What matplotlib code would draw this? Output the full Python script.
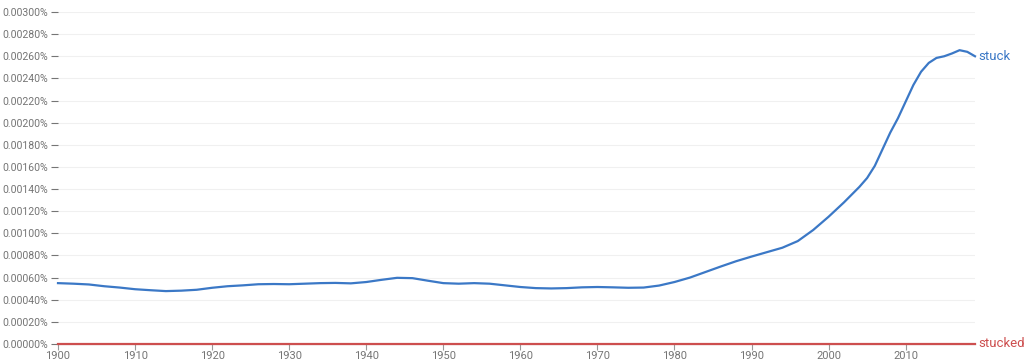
import matplotlib.pyplot as plt
from matplotlib.ticker import FuncFormatter

# Dati
years = [1900, 1902, 1904, 1906, 1908, 1910, 1912, 1914, 1916, 1918,
         1920, 1922, 1924, 1926, 1928, 1930, 1932, 1934, 1936, 1938,
         1940, 1942, 1944, 1946, 1948, 1950, 1952, 1954, 1956, 1958,
         1960, 1962, 1964, 1966, 1968, 1970, 1972, 1974, 1976, 1978,
         1980, 1982, 1984, 1986, 1988, 1990, 1992, 1994, 1996, 1998,
         2000, 2002, 2004, 2005, 2006, 2007, 2008, 2009, 2010, 2011, 2012,
         2013, 2014, 2015, 2016, 2017, 2018, 2019]
stuck = [0.000550, 0.000545, 0.000538, 0.000522, 0.000510, 0.000495, 0.000486, 0.000478, 0.000482, 0.000490,
         0.000508, 0.000522, 0.000530, 0.000540, 0.000542, 0.000540, 0.000545, 0.000550, 0.000552, 0.000548,
         0.000560, 0.000580, 0.000598, 0.000595, 0.000572, 0.000550, 0.000545, 0.000550, 0.000545, 0.000530,
         0.000515, 0.000505, 0.000502, 0.000505, 0.000512, 0.000515, 0.000512, 0.000508, 0.000510, 0.000528,
         0.000560, 0.000600, 0.000650, 0.000700, 0.000748, 0.000790, 0.000830, 0.000870, 0.000930, 0.001030,
         0.001150, 0.001280, 0.001420, 0.001500, 0.001610, 0.001760, 0.001910, 0.002040, 0.002190, 0.002340, 0.002460,
         0.002540, 0.002585, 0.002600, 0.002625, 0.002655, 0.002640, 0.002600]
stucked = [0.000001] * len(years)

blue = '#3b78c6'
red = '#cd4f4f'
gray = '#757575'

plt.rcParams['font.family'] = ['Roboto', 'DejaVu Sans']

fig = plt.figure(figsize=(10.24, 3.62), dpi=100)
ax = fig.add_axes([58 / 1024, 18 / 362, (975 - 58) / 1024, (344 - 12) / 362])

ax.plot(years, stuck, color=blue, linewidth=1.6, clip_on=False)
ax.plot(years, stucked, color=red, linewidth=1.6, clip_on=False, zorder=3)

ax.set_xlim(1900, 2019)
ax.set_ylim(0, 0.003)

ax.set_yticks([i * 0.0002 for i in range(16)])
ax.yaxis.set_major_formatter(FuncFormatter(lambda v, p: f'{v:.5f}%'))
ax.set_xticks(range(1900, 2011, 10))

ax.grid(axis='y', color='#f0f0f0', linewidth=0.8)
ax.set_axisbelow(True)

for s in ['top', 'right', 'left']:
    ax.spines[s].set_visible(False)
ax.spines['bottom'].set_color('#999999')

ax.tick_params(axis='y', length=5, color=gray, labelcolor=gray, labelsize=7.6, pad=2, width=0.8)
ax.tick_params(axis='x', length=4, color='#999999', labelcolor=gray, labelsize=8, pad=1, width=0.8)

# etichette delle serie
ax.text(2019.4, stuck[-1], 'stuck', color=blue, fontsize=9.5, va='center', ha='left', clip_on=False)
ax.text(2019.4, stucked[-1], 'stucked', color=red, fontsize=9.5, va='center', ha='left', clip_on=False)

fig.savefig('out.png', dpi=100, facecolor='white')
